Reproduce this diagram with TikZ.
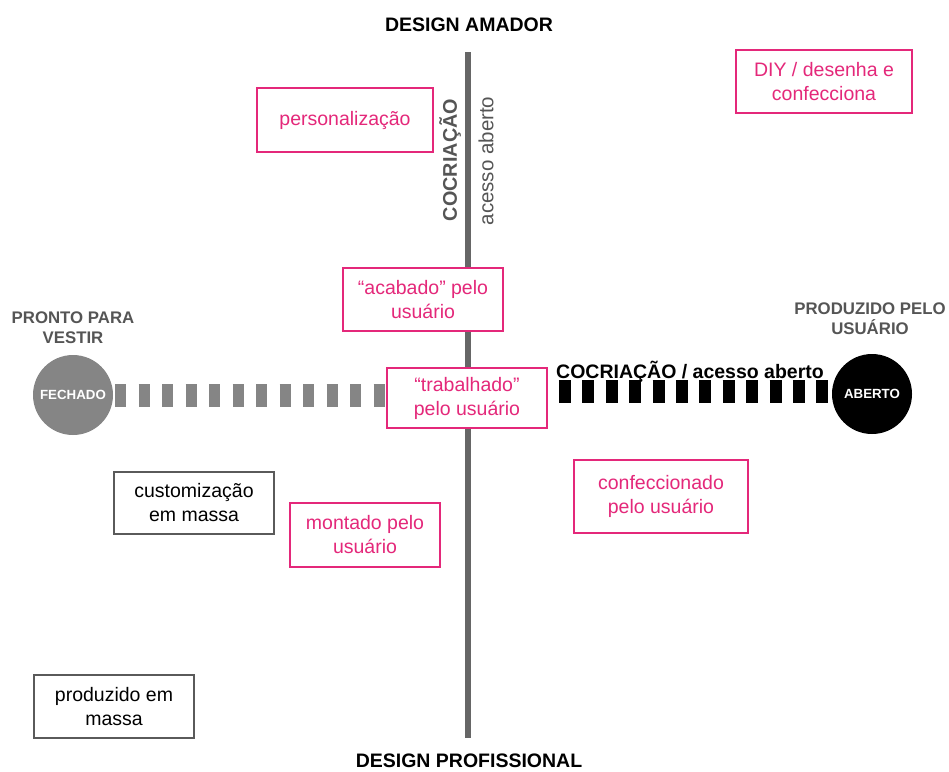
\documentclass[tikz,border=0pt]{standalone}
\usepackage{fontspec}
\setmainfont{Liberation Sans}
\definecolor{pinkline}{RGB}{228,40,122}
\definecolor{axisgray}{RGB}{102,102,102}
\definecolor{labelgray}{RGB}{85,85,85}
\definecolor{closedgray}{RGB}{133,133,133}
\definecolor{boxgray}{RGB}{90,90,90}
\begin{document}
\begin{tikzpicture}[x=1pt,y=-1pt,
  box/.style={draw=pinkline, line width=1.8pt, text=pinkline, fill=white,
    align=center, inner sep=0pt, font=\fontsize{19.5}{24}\selectfont},
  plainbox/.style={box, draw=boxgray, text=black, line width=1.2pt},
  heading/.style={font=\bfseries\fontsize{19.5}{23}\selectfont, text=black, inner sep=0pt},
  sidelabel/.style={font=\bfseries\fontsize{16.8}{20}\selectfont, text=labelgray, align=center},
  axislabel/.style={font=\fontsize{20.5}{23}\selectfont, text=labelgray, rotate=90},
  pole/.style={circle, minimum size=80pt, inner sep=0pt, text=white,
    font=\bfseries\fontsize{13.3}{15}\selectfont},
  dashbar/.style={line width=23pt, dash pattern=on 11pt off 12.5pt},
  axis/.style={draw=axisgray, line width=6pt}]
\useasboundingbox (0,0) rectangle (949,771);

% vertical axis
\coordinate (axtop) at (468,52);
\coordinate (axbot) at (468,738);
\draw[axis] (axtop) -- (axbot);

\node[heading] (amador) at (469,25) {DESIGN AMADOR};
\node[heading] (prof) at (469,760.5) {DESIGN PROFISSIONAL};

\node[axislabel, font=\bfseries\fontsize{19.8}{23}\selectfont] (cocv) at (450,160) {COCRIAÇÃO};
\node[axislabel] (acessov) at (486,161) {acesso aberto};

% poles of the horizontal axis
\node[pole, fill=closedgray] (fechado) at (73,395) {FECHADO};
\node[pole, fill=black] (aberto) at (872,394) {ABERTO};
\node[sidelabel] (pronto) at (73,328) {PRONTO PARA\\VESTIR};
\node[sidelabel] (produz) at (870,319) {PRODUZIDO PELO\\USUÁRIO};

% boxes
\node[box, minimum width=176pt, minimum height=64pt] (pers) at (345,120) {personalização};
\node[box, minimum width=176pt, minimum height=63pt] (diy) at (824,81.5) {DIY / desenha e\\confecciona};
\node[box, minimum width=160pt, minimum height=63pt] (acab) at (423,299.5) {“acabado” pelo\\usuário};
\node[box, minimum width=160pt, minimum height=60pt] (trab) at (467,398) {“trabalhado”\\pelo usuário};
\node[plainbox, minimum width=160pt, minimum height=62pt] (custom) at (194,503) {customização\\em massa};
\node[box, minimum width=150pt, minimum height=64pt] (mont) at (365,535) {montado pelo\\usuário};
\node[box, minimum width=174pt, minimum height=73pt] (confec) at (661,496.5) {confeccionado\\pelo usuário};
\node[plainbox, minimum width=160pt, minimum height=63pt] (massa) at (114,706.5) {produzido em\\massa};

% horizontal axis: closed side and open side
\draw[dashbar, draw=closedgray] ([xshift=2pt]fechado.east) -- (fechado.east -| trab.west);
\coordinate (openstart) at ([xshift=11pt]trab.east |- aberto.west);
\draw[dashbar, draw=black, dash pattern=on 12pt off 11.4pt] ([yshift=3pt]openstart) -- ([yshift=3pt]aberto.west);
\node[heading, anchor=west] (cocopen) at (556,372) {COCRIAÇÃO / acesso aberto};
\end{tikzpicture}
\end{document}
